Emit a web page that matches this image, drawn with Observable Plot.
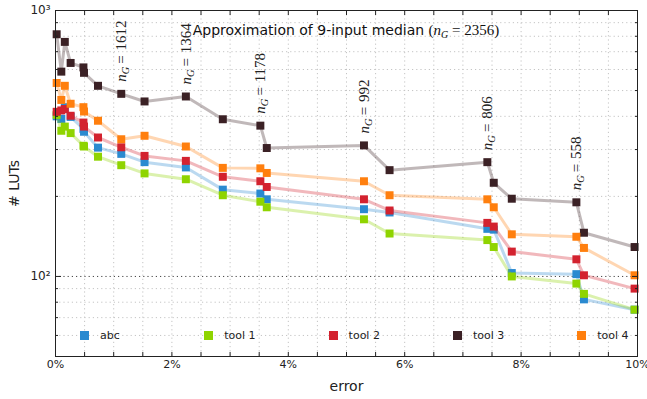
<!DOCTYPE html>
<html><head><meta charset="utf-8">
<script src="https://cdn.jsdelivr.net/npm/d3@7"></script>
<script src="https://cdn.jsdelivr.net/npm/@observablehq/plot@0.6"></script>
<style>
body{margin:0;background:#fff;}
#wrap{position:relative;width:647px;height:399px;font-family:"DejaVu Sans",sans-serif;color:#222;}
#title{position:absolute;left:55px;width:582px;top:21px;text-align:center;font-size:14px;line-height:18px;color:#111;white-space:nowrap;}
#title .m{font-family:"Liberation Serif",serif;font-size:15px;}
#title sub{font-size:10px;vertical-align:-3px;line-height:0;}
#legend{position:absolute;left:0;top:326px;width:647px;height:18px;}
.item{position:absolute;top:0;height:18px;display:flex;align-items:center;font-size:11px;white-space:nowrap;}
.sw{width:9px;height:9px;margin-right:11px;}
</style></head>
<body>
<div id="wrap">
  <div id="chart"></div>
  <div id="title">Approximation of 9-input median <span class="m">(<i>n</i><sub><i>G</i></sub> = 2356)</span></div>
  <div id="legend"></div>
</div>
<script>
// ---- data ----
const errors = [0.02, 0.10, 0.16, 0.26, 0.48, 0.49, 0.73, 1.13, 1.53, 2.24, 2.875, 3.52, 3.63, 5.30, 5.74, 7.42, 7.53, 7.84, 8.95, 9.08, 9.95];
const abc   = [400, 391, 433, 398, 359, 350, 305, 289, 269, 257, 212, 205, 195, 179, 174, 151, 150, 103, 102, 82, 75];
const tool1 = [405, 353, 366, 346, 310, 308, 282, 262, 244, 232, 202, 191, 182, 164, 145, 137, 129, 100, 94, 86, 75];
const tool2 = [416, 421, 426, 402, 379, 366, 333, 306, 284, 272, 237, 228, 217, 195, 177, 159, 154, 124, 116, 101, 90];
const tool3 = [814, 589, 762, 635, 611, 583, 521, 486, 455, 475, 390, 369, 304, 311, 251, 269, 225, 196, 190, 146, 129];
const tool4 = [534, 461, 521, 446, 433, 417, 385, 328, 338, 308, 256, 255, 245, 228, 202, 195, 182, 144, 141, 128, 101];
const seriesNames = ["abc", "tool 1", "tool 2", "tool 3", "tool 4"];
const seriesColors = ["#2a8ad0", "#8fd400", "#d3222f", "#3b2125", "#ff7f0e"];
const seriesValues = [abc, tool1, tool2, tool3, tool4];
const annotationErrors = [1.13, 2.24, 3.52, 5.30, 7.42, 8.95];
const annotationNG = [1612, 1364, 1178, 992, 806, 558];
const xLabelTicks = [0, 2, 4, 6, 8, 10];
const xMinorTicks = [0,0.5,1,1.5,2,2.5,3,3.5,4,4.5,5,5.5,6,6.5,7,7.5,8,8.5,9,9.5,10];
const yMajorTicks = [100, 1000];
const yMajorLabels = ["10²", "10³"];
const yMinorTicks = [60, 70, 80, 90, 200, 300, 400, 500, 600, 700, 800, 900];

// ---- build ----
const rows = seriesNames.flatMap((s, i) => errors.map((e, j) => ({series: s, error: e, luts: seriesValues[i][j]})));
const notes = annotationErrors.map((e, k) => ({error: e, ng: annotationNG[k], luts: tool3[errors.indexOf(e)]}));
const gridX = xMinorTicks.filter(d => d > 0 && d < 10);

const marks = [
  Plot.ruleY(yMinorTicks, {y: d => d, stroke: "#c4c4c4", strokeWidth: 1, strokeDasharray: "1.2,3"}),
  Plot.ruleX(gridX, {x: d => d, stroke: "#c4c4c4", strokeWidth: 1, strokeDasharray: "1.2,3"}),
  Plot.ruleY([100], {y: d => d, stroke: "#444", strokeWidth: 1, strokeDasharray: "1.2,3"})
];
seriesNames.forEach((s, i) => {
  const d = rows.filter(r => r.series === s);
  marks.push(Plot.line(d, {x: "error", y: "luts", stroke: seriesColors[i], strokeOpacity: 0.32, strokeWidth: 3}));
  marks.push(Plot.dot(d, {x: "error", y: "luts", fill: seriesColors[i], symbol: "square", r: 4.5}));
});
marks.push(
  Plot.text(notes, {x: "error", y: "luts", text: d => String(d.ng), rotate: -90, textAnchor: "start", lineAnchor: "middle", dy: -12, fontFamily: "Liberation Serif", fontSize: 15, fill: "#222", ariaDescription: "ng-label"}),
  Plot.frame({stroke: "#222", strokeWidth: 1}),
  Plot.axisX(xMinorTicks, {anchor: "bottom", tickSize: -4, tickFormat: () => "", label: null}),
  Plot.axisX(xMinorTicks, {anchor: "top", tickSize: -4, tickFormat: () => "", label: null}),
  Plot.axisX(xLabelTicks, {anchor: "bottom", tickSize: 0, tickPadding: 4, tickFormat: d => d + "%", label: null}),
  Plot.axisX([], {anchor: "bottom", label: "error", labelAnchor: "center", labelArrow: "none", labelOffset: 34, fontSize: 14}),
  Plot.axisY(yMinorTicks, {anchor: "left", tickSize: -3, tickFormat: () => "", label: null}),
  Plot.axisY(yMinorTicks, {anchor: "right", tickSize: -3, tickFormat: () => "", label: null}),
  Plot.axisY(yMajorTicks, {anchor: "left", tickSize: -6, tickFormat: () => "", label: null}),
  Plot.axisY(yMajorTicks, {anchor: "right", tickSize: -6, tickFormat: () => "", label: null}),
  Plot.axisY(yMajorTicks, {anchor: "left", tickSize: 0, tickPadding: 5, tickFormat: d => yMajorLabels[yMajorTicks.indexOf(d)], fontSize: 12, label: null}),
  Plot.axisY([], {anchor: "left", label: "# LUTs", labelAnchor: "center", labelArrow: "none", labelOffset: 46, fontSize: 14})
);

const svg = Plot.plot({
  width: 647, height: 399,
  marginLeft: 55, marginRight: 10, marginTop: 10, marginBottom: 43,
  x: {domain: [0, 10]},
  y: {type: "log", domain: [50, 1000]},
  style: {fontFamily: "DejaVu Sans", fontSize: "11px", color: "#222", background: "white", overflow: "visible"},
  marks
});
document.getElementById("chart").appendChild(svg);

// n_G labels with subscript
const ns = "http://www.w3.org/2000/svg";
svg.querySelectorAll('g[aria-description="ng-label"] text').forEach(t => {
  const v = t.textContent;
  t.textContent = "";
  const a = document.createElementNS(ns, "tspan"); a.setAttribute("font-style", "italic"); a.textContent = "n";
  const b = document.createElementNS(ns, "tspan"); b.setAttribute("font-style", "italic"); b.setAttribute("font-size", "10.5"); b.setAttribute("dy", "3"); b.textContent = "G";
  const c = document.createElementNS(ns, "tspan"); c.setAttribute("dy", "-3"); c.setAttribute("dx", "3"); c.textContent = "= ";
  const d = document.createElementNS(ns, "tspan"); d.setAttribute("dx", "1"); d.textContent = v;
  t.append(a, b, c, d);
});

// legend
const legend = document.getElementById("legend");
seriesNames.forEach((s, i) => {
  const it = document.createElement("div");
  it.className = "item";
  it.style.left = (80 + i * 124.3) + "px";
  const sw = document.createElement("div"); sw.className = "sw"; sw.style.background = seriesColors[i];
  const lb = document.createElement("span"); lb.textContent = s;
  it.append(sw, lb);
  legend.appendChild(it);
});
</script>
</body></html>
